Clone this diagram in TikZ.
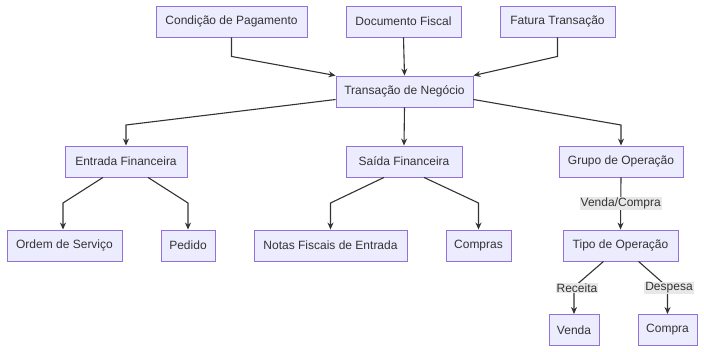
\documentclass[tikz,border=0pt]{standalone}
\usepackage{fontspec}
\setmainfont{Liberation Sans}
\usetikzlibrary{arrows.meta,calc}
\definecolor{boxfill}{HTML}{ECECFF}
\definecolor{boxdraw}{HTML}{9370DB}
\definecolor{edgecol}{HTML}{333333}
\definecolor{lblbg}{HTML}{E8E8E8}
\tikzset{
  box/.style={draw=boxdraw, fill=boxfill, line width=0.9pt, minimum height=31pt, inner sep=0pt, font=\fontsize{12}{14}\selectfont, text=edgecol},
  edge/.style={draw=edgecol, line width=1.1pt, -{Stealth[length=7pt,width=6pt]}},
  lbl/.style={fill=lblbg, inner sep=1pt, font=\fontsize{12}{14}\selectfont, text=edgecol}
}
\begin{document}
\begin{tikzpicture}[x=1pt,y=-1pt]
\useasboundingbox (0,0) rectangle (704,352);
\node[box, minimum width=151pt] (cp) at (231.5,21.5) {Condição de Pagamento};
\node[box, minimum width=115pt] (df) at (403.5,21.5) {Documento Fiscal};
\node[box, minimum width=115pt] (ft) at (557.5,21.5) {Fatura Transação};
\node[box, minimum width=137pt] (tn) at (404.5,91.5) {Transação de Negócio};
\node[box, minimum width=122pt] (ef) at (126,161.5) {Entrada Financeira};
\node[box, minimum width=116pt] (sf) at (404,161.5) {Saída Financeira};
\node[box, minimum width=124pt] (go) at (621,161.5) {Grupo de Operação};
\node[box, minimum width=115pt] (os) at (64.5,245.5) {Ordem de Serviço};
\node[box, minimum width=54pt] (pe) at (188,245.5) {Pedido};
\node[box, minimum width=153pt] (nf) at (330.5,245.5) {Notas Fiscais de Entrada};
\node[box, minimum width=65pt] (co) at (478.5,245.5) {Compras};
\node[box, minimum width=115pt] (to) at (620.5,245.5) {Tipo de Operação};
\node[box, minimum width=50pt] (ve) at (574,330) {Venda};
\node[box, minimum width=59pt] (cm) at (667.5,330) {Compra};

\draw[edge] (cp.south) -- ++(0,19) -- (tn.north west);
\draw[edge] (df.south) -- (tn.north);
\draw[edge] (ft.south) -- ++(0,19) -- (tn.north east);
\draw[edge] ([yshift=-8pt]tn.west) -- (ef.north |- 0,125) -- (ef.north);
\draw[edge] (tn.south) -- (sf.north);
\draw[edge] ([yshift=-8pt]tn.east) -- (go.north |- 0,125) -- (go.north);
\draw[edge] ([xshift=-23pt]ef.south) -- ($(os.north |- 0,203)+(-1.5,0)$) -- ([xshift=-1.5pt]os.north);
\draw[edge] ([xshift=22pt]ef.south) -- (pe.north |- 0,203) -- (pe.north);
\draw[edge] ([xshift=-20pt]sf.south) -- (nf.north |- 0,203) -- (nf.north);
\draw[edge] ([xshift=20pt]sf.south) -- (co.north |- 0,203) -- (co.north);
\draw[edge] (go.south) -- (to.north) node[lbl, midway] (l1) {Venda/Compra};
\draw[edge] ([xshift=-17pt]to.south) -- (ve.north |- 0,287) coordinate (c1) -- (ve.north);
\draw[edge] ([xshift=18pt]to.south) -- (cm.north |- 0,287) coordinate (c2) -- (cm.north);
\node[lbl] (l2) at ($(c1)+(3,1)$) {Receita};
\node[lbl] (l3) at ($(c2)+(1.5,1)$) {Despesa};
\end{tikzpicture}
\end{document}
